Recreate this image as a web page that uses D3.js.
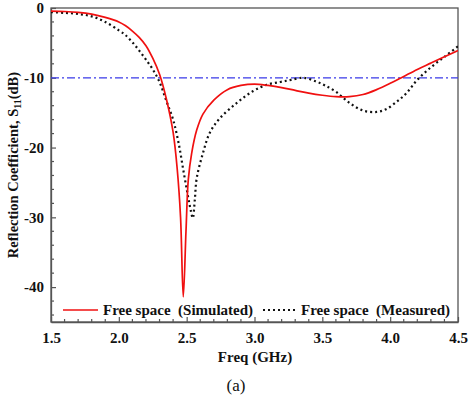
<!DOCTYPE html>
<html><head><meta charset="utf-8">
<script src="https://cdn.jsdelivr.net/npm/d3@7"></script>
<style>body{margin:0;background:#fff}svg{display:block}text{white-space:pre}</style>
</head><body>
<script>
const simFreq = [1.5,1.6,1.7,1.8,1.9,2.0,2.05,2.1,2.15,2.2,2.25,2.3,2.35,2.4,2.43,2.455,2.475,2.495,2.512,2.537,2.574,2.62,2.7,2.8,2.9,3.0,3.1,3.2,3.3,3.4,3.5,3.6,3.7,3.8,3.9,4.0,4.1,4.2,4.3,4.4,4.5];
const simS11 = [-0.45,-0.5,-0.62,-0.88,-1.35,-2.0,-2.55,-3.3,-4.2,-5.4,-7.2,-9.5,-13.0,-17.8,-23,-30,-41.4,-32,-24.6,-20.8,-17.5,-15.2,-13.2,-11.7,-11.1,-10.9,-11.1,-11.4,-11.8,-12.2,-12.5,-12.7,-12.7,-12.4,-11.7,-10.8,-9.8,-8.8,-7.9,-7.0,-6.1];
const measFreq = [1.5,1.6,1.7,1.8,1.9,2.0,2.05,2.1,2.15,2.2,2.25,2.3,2.35,2.4,2.44,2.475,2.51,2.53,2.545,2.56,2.574,2.62,2.67,2.745,2.87,2.99,3.09,3.19,3.27,3.36,3.45,3.52,3.6,3.7,3.8,3.9,3.97,4.05,4.12,4.2,4.3,4.4,4.5];
const measS11 = [-0.6,-0.7,-0.85,-1.2,-2.0,-3.2,-3.9,-4.9,-6.1,-7.4,-8.8,-10.6,-13.3,-16.0,-19.3,-23.2,-27,-29,-30.1,-27.5,-24.4,-20.8,-17.9,-15.8,-13.6,-11.9,-11.0,-10.6,-10.3,-10,-10.5,-11.1,-12,-13.6,-14.7,-14.9,-14.5,-13.4,-12.2,-10.3,-8.5,-7.0,-5.5];
const xTicks = [1.5,2.0,2.5,3.0,3.5,4.0,4.5];
const yTicks = [0,-10,-20,-30,-40];
const threshold = -10;
const legendLabels = ["Free space  (Simulated)", "Free space  (Measured)"];

const W = 471, H = 396;
const L = 51, R = 458, T = 8, B = 322;
const svg = d3.select("body").append("svg").attr("width", W).attr("height", H);
const x = d3.scaleLinear().domain([1.5, 4.5]).range([L, R]);
const y = d3.scaleLinear().domain([-45, 0]).range([B, T]);
const font = "'Liberation Serif','Times New Roman',serif";
const axisColor = "#555";

svg.append("rect").attr("x", L).attr("y", T).attr("width", R - L).attr("height", B - T)
  .attr("fill", "none").attr("stroke", axisColor).attr("stroke-width", 1.3);

const xAxis = d3.axisBottom(x).tickValues(xTicks).tickFormat(d3.format(".1f")).tickSizeInner(-5).tickSizeOuter(0).tickPadding(10);
const gx = svg.append("g").attr("transform", `translate(0,${B})`).call(xAxis);
const xMinor = d3.range(1.6, 4.5, 0.1).filter(v => Math.abs(v * 2 - Math.round(v * 2)) > 0.01);
gx.selectAll(".minor").data(xMinor).enter().append("line").attr("class", "minor")
  .attr("x1", d => x(d)).attr("x2", d => x(d)).attr("y1", 0).attr("y2", -3);
const yAxis = d3.axisLeft(y).tickValues(yTicks).tickFormat(d => d).tickSizeInner(-5).tickSizeOuter(0).tickPadding(7);
const gy = svg.append("g").attr("transform", `translate(${L},0)`).call(yAxis);
const yMinor = d3.range(-44, 0, 2).filter(v => v % 10 !== 0);
gy.selectAll(".minor").data(yMinor).enter().append("line").attr("class", "minor")
  .attr("y1", d => y(d)).attr("y2", d => y(d)).attr("x1", 0).attr("x2", 3);
[gx, gy].forEach(g => {
  g.select(".domain").attr("stroke", axisColor).attr("stroke-width", 1.3);
  g.selectAll("line").attr("stroke", axisColor).attr("stroke-width", 1.2);
  g.selectAll("text").attr("font-family", font).attr("font-weight", "bold").attr("font-size", 15).attr("fill", "#111");
});

svg.append("line").attr("x1", L).attr("x2", R).attr("y1", y(threshold)).attr("y2", y(threshold))
  .attr("stroke", "#3a3ae8").attr("stroke-width", 1.3).attr("stroke-dasharray", "8,3,2,3");

const line = d3.line().x(d => x(d[0])).y(d => y(d[1])).curve(d3.curveCatmullRom.alpha(0.5));
svg.append("clipPath").attr("id", "c").append("rect").attr("x", L).attr("y", T).attr("width", R - L).attr("height", B - T);
svg.append("path").datum(d3.zip(measFreq, measS11)).attr("d", line).attr("fill", "none")
  .attr("stroke", "#111").attr("stroke-width", 2.2).attr("stroke-dasharray", "2,3").attr("clip-path", "url(#c)");
svg.append("path").datum(d3.zip(simFreq, simS11)).attr("d", line).attr("fill", "none")
  .attr("stroke", "#f01010").attr("stroke-width", 1.7).attr("clip-path", "url(#c)");

const ly = 310;
svg.append("line").attr("x1", 63).attr("x2", 98).attr("y1", ly).attr("y2", ly).attr("stroke", "#f01010").attr("stroke-width", 1.7);
svg.append("text").attr("x", 103).attr("y", ly + 5).text(legendLabels[0])
  .attr("font-family", font).attr("font-weight", "bold").attr("font-size", 15).attr("fill", "#111");
svg.append("line").attr("x1", 263).attr("x2", 298).attr("y1", ly).attr("y2", ly).attr("stroke", "#111").attr("stroke-width", 2).attr("stroke-dasharray", "2,3");
svg.append("text").attr("x", 301).attr("y", ly + 5).text(legendLabels[1])
  .attr("font-family", font).attr("font-weight", "bold").attr("font-size", 15).attr("fill", "#111");

svg.append("text").attr("x", 255).attr("y", 362).attr("text-anchor", "middle").text("Freq (GHz)")
  .attr("font-family", font).attr("font-weight", "bold").attr("font-size", 15).attr("fill", "#111");
svg.append("text").attr("x", 236).attr("y", 391).attr("text-anchor", "middle").text("(a)")
  .attr("font-family", font).attr("font-size", 17).attr("fill", "#111");
const yt = svg.append("text").attr("transform", `translate(18,${(T + B) / 2}) rotate(-90)`).attr("text-anchor", "middle")
  .attr("font-family", font).attr("font-weight", "bold").attr("font-size", 14.5).attr("fill", "#111");
yt.append("tspan").text("Reflection Coefficient, S");
yt.append("tspan").attr("font-size", 10).attr("dy", 3).text("11");
yt.append("tspan").attr("dy", -3).text("(dB)");
</script>
</body></html>
